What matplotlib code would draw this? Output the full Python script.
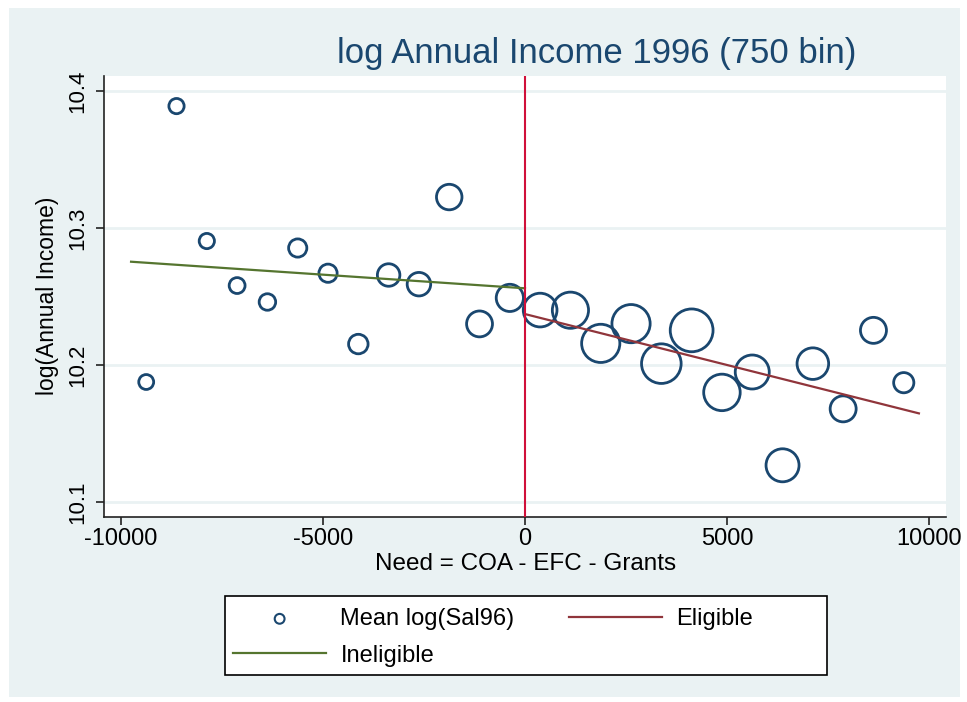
import numpy as np
import matplotlib
matplotlib.use('Agg')
import matplotlib.pyplot as plt
from matplotlib.patches import Rectangle

# bin midpoints (750-wide bins) and mean log salary per bin
need_mid = [-9375, -8625, -7875, -7125, -6375, -5625, -4875, -4125, -3375,
            -2625, -1875, -1125, -375,
            375, 1125, 1875, 2625, 3375, 4125, 4875, 5625, 6375, 7125,
            7875, 8625, 9375]
mean_lsal = [10.1876, 10.389, 10.2905, 10.258, 10.246, 10.2854, 10.267,
             10.2153, 10.2657, 10.259, 10.3226, 10.230, 10.249,
             10.2401, 10.240, 10.2158, 10.2302, 10.201, 10.2253, 10.180,
             10.1949, 10.1268, 10.201, 10.168, 10.2253, 10.1871]
# observations per bin (marker area is proportional)
bin_n = [111, 116, 116, 126, 136, 166, 166, 190, 253, 276, 325, 335, 370,
         568, 655, 730, 730, 784, 916, 666, 578, 545, 499, 338, 338, 204]

# fitted lines on each side of the cutoff
inel_x = [-9750, 0]
inel_y = [10.2754, 10.2560]
elig_x = [0, 9750]
elig_y = [10.2372, 10.1647]

xticks = [-10000, -5000, 0, 5000, 10000]
yticks = [10.1, 10.2, 10.3, 10.4]

NAVY = '#1a476f'
GREEN = '#55752f'
MAROON = '#90353b'
CUTOFF = '#d0103a'
BG = '#eaf2f3'

plt.rcParams['font.family'] = ['Liberation Sans', 'DejaVu Sans']

fig = plt.figure(figsize=(9.67, 7.02), dpi=100)
fig.patch.set_facecolor('white')
fig.patches.append(Rectangle((9 / 967, 1 - 697 / 702), 951 / 967, 689 / 702,
                             transform=fig.transFigure, facecolor=BG,
                             edgecolor='none', zorder=-5))

ax = fig.add_axes([0.1075, 0.2640, 0.8713, 0.6282])
ax.set_facecolor('white')

pts = ax.scatter(need_mid, mean_lsal, s=np.array(bin_n) * 1.037,
                 facecolors='none', edgecolors=NAVY, linewidths=2.0, zorder=3)
inel, = ax.plot(inel_x, inel_y, color=GREEN, lw=1.6, zorder=4)
elig, = ax.plot(elig_x, elig_y, color=MAROON, lw=1.6, zorder=4)
ax.axvline(0, color=CUTOFF, lw=1.5, zorder=5)

ax.set_xlim(-10421, 10433)
ax.set_ylim(10.0893, 10.4112)
ax.set_xticks(xticks)
ax.set_xticklabels([str(t) for t in xticks], fontsize=17)
ax.set_yticks(yticks)
ax.set_yticklabels([f'{t:.1f}' for t in yticks], rotation=90, va='center',
                   fontsize=16)
ax.tick_params(axis='both', direction='out', length=5.5, width=1.2,
               color='#222222')
ax.tick_params(axis='x', pad=3)
ax.tick_params(axis='y', pad=6)
ax.grid(axis='y', color=BG, lw=2.0, zorder=0)
ax.set_axisbelow(True)
for side in ('top', 'right'):
    ax.spines[side].set_visible(False)
for side in ('left', 'bottom'):
    ax.spines[side].set_color('#222222')
    ax.spines[side].set_linewidth(1.2)

ax.set_xlabel('Need = COA - EFC - Grants', fontsize=17.5, labelpad=2)
ax.set_ylabel('log(Annual Income)', fontsize=16.5, labelpad=6)

fig.text(597 / 967, 1 - 54 / 702, 'log Annual Income 1996 (750 bin)',
         fontsize=25, color=NAVY, ha='center', va='center')

# legend box drawn by hand so its size matches the original
fig.patches.append(Rectangle((225 / 967, 1 - 675 / 702), 602 / 967, 79 / 702,
                             transform=fig.transFigure, facecolor='white',
                             edgecolor='black', lw=1.2, zorder=1))
leg = fig.legend([pts, inel, elig], ['Mean log(Sal96)', 'Ineligible', 'Eligible'],
                 ncol=2, loc='upper left',
                 bbox_to_anchor=(233 / 967, 1 - 608 / 702),
                 fontsize=17, frameon=False, borderpad=0, borderaxespad=0,
                 handlelength=3.95, handletextpad=0.6, columnspacing=2.3,
                 labelspacing=0.62)
leg.set_zorder(2)
for hd in leg.legend_handles:
    if hasattr(hd, 'set_sizes'):
        hd.set_sizes([50])
        hd.set_linewidths(1.5)

fig.savefig('out.png', dpi=100)
